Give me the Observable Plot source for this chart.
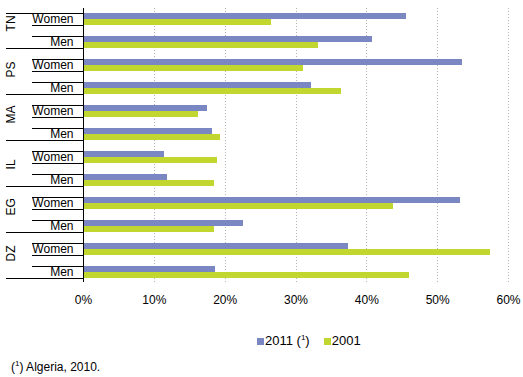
<!DOCTYPE html>
<html><head><meta charset="utf-8">
<script src="https://cdn.jsdelivr.net/npm/d3@7"></script>
<script src="https://cdn.jsdelivr.net/npm/@observablehq/plot@0.6"></script>
<style>
html,body{margin:0;padding:0;background:#fff;}
body{position:relative;width:523px;height:377px;overflow:hidden;font-family:"Liberation Sans",Arial,sans-serif;color:#000;}
#chart svg{display:block;}
.legend{position:absolute;top:333px;left:257px;font-size:13px;line-height:15px;white-space:nowrap;}
.legend .item{display:inline-block;}
.legend .sw{display:inline-block;width:7px;height:7px;margin-right:1px;vertical-align:0px;}
.sup{font-size:8px;position:relative;top:-5px;}
.foot{position:absolute;top:360px;left:11px;font-size:12px;line-height:14px;white-space:nowrap;}
</style></head>
<body>
<div id="chart"></div>
<div class="legend" id="legend"></div>
<div class="foot">(<span class="sup">1</span>) Algeria, 2010.</div>
<script>
const countries = ["TN", "PS", "MA", "IL", "EG", "DZ"];
const sexes = ["Women", "Men"];
const seriesNames = ["2011", "2001"];
const seriesLabels = ["2011 (¹)", "2001"];
const seriesColors = ["#7a87c3", "#c1d72f"];
// order: TN Women, TN Men, PS Women, PS Men, MA Women, MA Men, IL Women, IL Men, EG Women, EG Men, DZ Women, DZ Men
const values2011 = [45.6, 40.8, 53.5, 32.2, 17.5, 18.2, 11.4, 11.8, 53.2, 22.6, 37.4, 18.6];
const values2001 = [26.6, 33.2, 31.1, 36.4, 16.2, 19.4, 18.9, 18.5, 43.8, 18.5, 57.5, 46.0];
const xTicks = [0, 10, 20, 30, 40, 50, 60];

const rows = countries.flatMap(c => sexes.map(s => ({key: c + "|" + s, country: c, sex: s})));
const d2011 = rows.map((r, i) => ({...r, series: seriesNames[0], value: values2011[i]}));
const d2001 = rows.map((r, i) => ({...r, series: seriesNames[1], value: values2001[i]}));

const crisp = {shapeRendering: "crispEdges"};
const plot = Plot.plot({
  width: 523,
  height: 318,
  marginLeft: 83,
  marginRight: 15,
  marginTop: 2,
  marginBottom: 30,
  style: {fontSize: "12px", fontFamily: "'Liberation Sans', Arial, sans-serif", color: "#000", background: "#fff", overflow: "visible"},
  x: {domain: [0, 60], ticks: xTicks, tickFormat: d => d + "%", tickSize: 0, tickPadding: 7, label: null},
  y: {domain: rows.map(r => r.key), paddingInner: 0.5, paddingOuter: 0.25, axis: null},
  color: {domain: seriesNames, range: seriesColors},
  marks: [
    Plot.ruleX(xTicks.filter(d => d > 0), {stroke: "#b4b4b4", strokeDasharray: "1,2", insetTop: 6, insetBottom: 6, ...crisp}),
    Plot.barX(d2011, {x: "value", y: "key", fill: "series", insetBottom: 5.96, ...crisp}),
    Plot.barX(d2001, {x: "value", y: "key", fill: "series", insetTop: 5.96, ...crisp}),
    Plot.ruleX([0], {stroke: "#000", strokeWidth: 1, insetTop: 6, insetBottom: 6, ...crisp}),
    Plot.ruleY(rows, {y: "key", x1: -7.2, x2: 0, dy: -5.96, stroke: "#000", ...crisp}),
    Plot.ruleY(rows, {y: "key", x1: -7.2, x2: 0, dy: 5.96, stroke: "#000", ...crisp}),
    Plot.ruleY(rows.filter(r => r.sex === "Men"), {y: "key", x1: -10.9, x2: 0, dy: 5.96, stroke: "#000", ...crisp}),
    Plot.ruleY(rows.slice(0, 1), {y: "key", x1: -10.9, x2: 0, dy: -5.96, stroke: "#000", ...crisp}),
    Plot.text(rows, {y: "key", x: 0, text: "sex", dx: -10, textAnchor: "end", fill: "#000"}),
    Plot.text(rows.filter(r => r.sex === "Women"), {y: "key", frameAnchor: "left", text: "country", dx: -72, dy: 11.9, rotate: -90, fill: "#000"})
  ]
});
document.getElementById("chart").appendChild(plot);

const legend = document.getElementById("legend");
seriesLabels.forEach((lab, i) => {
  const item = document.createElement("span");
  item.className = "item";
  item.style.marginRight = i === 0 ? "14px" : "0";
  const sw = document.createElement("span");
  sw.className = "sw";
  sw.style.background = seriesColors[i];
  item.appendChild(sw);
  const t = document.createElement("span");
  if (lab.includes("¹")) {
    const [a, b] = lab.split("¹");
    t.innerHTML = a + '<span class="sup">1</span>' + b;
  } else t.textContent = lab;
  item.appendChild(t);
  legend.appendChild(item);
});
</script>
</body></html>
